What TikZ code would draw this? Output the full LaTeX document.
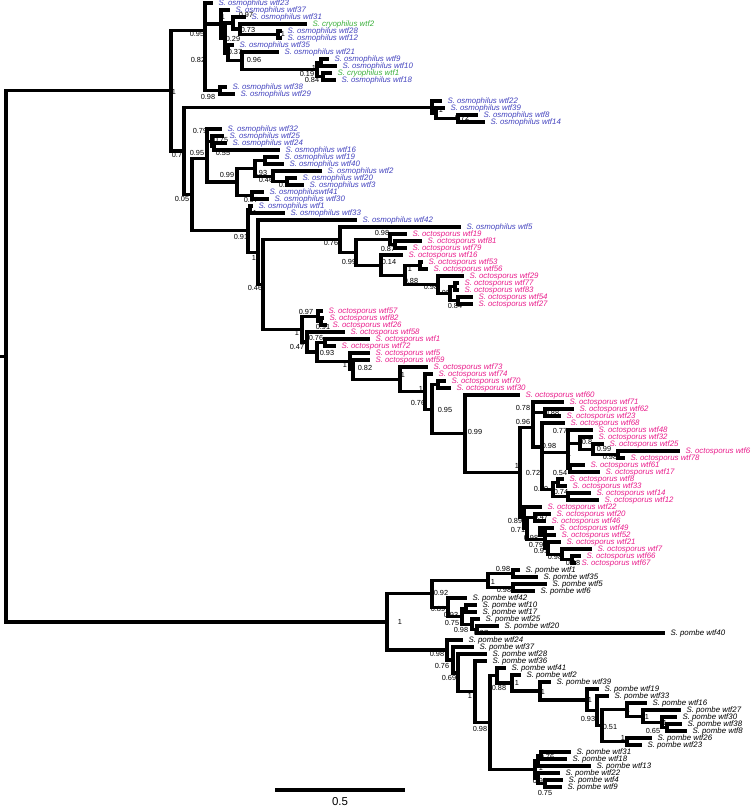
\documentclass[tikz,border=0pt]{standalone}
\usepackage{fontspec}
\setmainfont{Liberation Sans}
\definecolor{osmoblue}{RGB}{66,66,190}
\definecolor{cryogreen}{RGB}{60,176,60}
\definecolor{octopink}{RGB}{233,30,140}
\tikzset{every picture/.style={line width=0.75pt}}
\tikzset{
  br/.style={line width=2.4pt},
  tip/.style={anchor=west,inner sep=0pt,font=\fontsize{5.9}{6}\selectfont\itshape},
  sup/.style={inner sep=0pt,font=\fontsize{5.5}{6}\selectfont},
  osmo/.style={text=osmoblue},
  cryo/.style={text=cryogreen},
  octo/.style={text=octopink},
  pomb/.style={text=black}
}
\begin{document}
\begin{tikzpicture}[x=0.75pt,y=0.75pt,yscale=-1,xscale=1]
\useasboundingbox (0,0) rectangle (750,807);

% Tips (one row every 7 units)
\foreach \nm/\xe/\col/\txt [count=\k from 0] in {
 osm23/213/osmo/S. osmophilus wtf23, osm37/230/osmo/S. osmophilus wtf37,
 osm31/246/osmo/S. osmophilus wtf31, cry2/307/cryo/S. cryophilus wtf2,
 osm28/282/osmo/S. osmophilus wtf28, osm12/282/osmo/S. osmophilus wtf12,
 osm35/234/osmo/S. osmophilus wtf35, osm21/279/osmo/S. osmophilus wtf21,
 osm9/329/osmo/S. osmophilus wtf9, osm10/337/osmo/S. osmophilus wtf10,
 cry1/332/cryo/S. cryophilus wtf1, osm18/336/osmo/S. osmophilus wtf18,
 osm38/227/osmo/S. osmophilus wtf38, osm29/235/osmo/S. osmophilus wtf29,
 osm22/442/osmo/S. osmophilus wtf22, osm39/445/osmo/S. osmophilus wtf39,
 osm8/478/osmo/S. osmophilus wtf8, osm14/485/osmo/S. osmophilus wtf14,
 osm32/222/osmo/S. osmophilus wtf32, osm25/224/osmo/S. osmophilus wtf25,
 osm24/227/osmo/S. osmophilus wtf24, osm16/280/osmo/S. osmophilus wtf16,
 osm19/279/osmo/S. osmophilus wtf19, osm40/284/osmo/S. osmophilus wtf40,
 osm2/322/osmo/S. osmophilus wtf2, osm20/297/osmo/S. osmophilus wtf20,
 osm3/304/osmo/S. osmophilus wtf3, osm41/264/osmo/S. osmophiluswtf41,
 osm30/269/osmo/S. osmophilus wtf30, osm1/253/osmo/S. osmophilus wtf1,
 osm33/285/osmo/S. osmophilus wtf33, osm42/357/osmo/S. osmophilus wtf42,
 osm5/461/osmo/S. osmophilus wtf5,
 oct19/407/octo/S. octosporus wtf19, oct81/422/octo/S. octosporus wtf81,
 oct79/407/octo/S. octosporus wtf79, oct16/403/octo/S. octosporus wtf16,
 oct53/423/octo/S. octosporus wtf53, oct56/428/octo/S. octosporus wtf56,
 oct29/464/octo/S. octosporus wtf29, oct77/459/octo/S. octosporus wtf77,
 oct83/459/octo/S. octosporus wtf83, oct54/473/octo/S. octosporus wtf54,
 oct27/473/octo/S. octosporus wtf27, oct57/323/octo/S. octosporus wtf57,
 oct82/324/octo/S. octosporus wtf82, oct26/327/octo/S. octosporus wtf26,
 oct58/345/octo/S. octosporus wtf58, oct1/370/octo/S. octosporus wtf1,
 oct72/336/octo/S. octosporus wtf72, oct5/370/octo/S. octosporus wtf5,
 oct59/370/octo/S. octosporus wtf59, oct73/428/octo/S. octosporus wtf73,
 oct74/433/octo/S. octosporus wtf74, oct70/446/octo/S. octosporus wtf70,
 oct30/451/octo/S. octosporus wtf30, oct60/520/octo/S. octosporus wtf60,
 oct71/564/octo/S. octosporus wtf71, oct62/574/octo/S. octosporus wtf62,
 oct23/561/octo/S. octosporus wtf23, oct68/565/octo/S. octosporus wtf68,
 oct48/593/octo/S. octosporus wtf48, oct32/593/octo/S. octosporus wtf32,
 oct25/604/octo/S. octosporus wtf25, oct6/680/octo/S. octosporus wtf6,
 oct78/625/octo/S. octosporus wtf78, oct61/585/octo/S. octosporus wtf61,
 oct17/600/octo/S. octosporus wtf17, oct8/564/octo/S. octosporus wtf8,
 oct33/567/octo/S. octosporus wtf33, oct14/591/octo/S. octosporus wtf14,
 oct12/599/octo/S. octosporus wtf12, oct22/542/octo/S. octosporus wtf22,
 oct20/551/octo/S. octosporus wtf20, oct46/546/octo/S. octosporus wtf46,
 oct49/554/octo/S. octosporus wtf49, oct52/556/octo/S. octosporus wtf52,
 oct21/561/octo/S. octosporus wtf21, oct7/592/octo/S. octosporus wtf7,
 oct66/581/octo/S. octosporus wtf66, oct67/576/octo/S. octosporus wtf67,
 pom1/520/pomb/S. pombe wtf1, pom35/538/pomb/S. pombe wtf35,
 pom5/547/pomb/S. pombe wtf5, pom6/535/pomb/S. pombe wtf6,
 pom42/467/pomb/S. pombe wtf42, pom10/477/pomb/S. pombe wtf10,
 pom17/477/pomb/S. pombe wtf17, pom25/480/pomb/S. pombe wtf25,
 pom20/499/pomb/S. pombe wtf20, pom40/665/pomb/S. pombe wtf40,
 pom24/463/pomb/S. pombe wtf24, pom37/474/pomb/S. pombe wtf37,
 pom28/487/pomb/S. pombe wtf28, pom36/487/pomb/S. pombe wtf36,
 pom41/506/pomb/S. pombe wtf41, pom2/521/pomb/S. pombe wtf2,
 pom39/551/pomb/S. pombe wtf39, pom19/599/pomb/S. pombe wtf19,
 pom33/609/pomb/S. pombe wtf33, pom16/647/pomb/S. pombe wtf16,
 pom27/681/pomb/S. pombe wtf27, pom30/677/pomb/S. pombe wtf30,
 pom38/682/pomb/S. pombe wtf38, pom8/687/pomb/S. pombe wtf8,
 pom26/652/pomb/S. pombe wtf26, pom23/642/pomb/S. pombe wtf23,
 pom31/571/pomb/S. pombe wtf31, pom18/567/pomb/S. pombe wtf18,
 pom13/591/pomb/S. pombe wtf13, pom22/560/pomb/S. pombe wtf22,
 pom4/563/pomb/S. pombe wtf4, pom9/562/pomb/S. pombe wtf9}{
  \coordinate (\nm) at (\xe,{3+7*\k});
  \node[tip,\col] (lab\nm) at ({\xe+5},{3+7*\k}) {\txt};
}

% Inner nodes
\foreach \nm/\xn/\yn in {
 root/6/356.2, n1/171/90.5, T0/205/30.1, T1/205/57.2, T9/220/90.5,
 T2/221/24, T3/225/38, T4/233/23, T5/240/29, T5b/278/34.5, T6/228/52.9,
 T7/242/60.75, T10/317/69.5, T11/321/62.5, T12/323/76.5,
 n2/184/150.9, W0/432/107.1, W1/436/113.25, W2/458/118.5, n3/192/194.7,
 n4/207/158.5, P0/207/135.1, P1/212/141.25, P2/214/146.5, P5/237/181.9,
 P6/255/168.4, P7/265/160.5, P8/273/176.25, P9/287/181.5, P10/252/195.5,
 n5/248/230.8, Q0/250/209.5, Q1/258/252.2, Q2/263/284.4, Q3/340/239.6,
 cA/356/252.2, A1/390/239.25, A1b/395/244.5, A2/381/265.1, A3/405/275.1,
 A4/420/265.5, A5/438/284.75, A6/450/293.5, A7/455/286.5, A8/458/300.5,
 B0/302/329.1, B1/318/316.25, B1b/321/321.5, B2/307/342, B3/317/351.9,
 B4/325/342.5, B5/350/361.3, B6/353/369.6, B7/400/379.3, X/425/391.6,
 D0/432/409.1, Z/438/384.5, C0/465/433.7, C1/520/472.5, C2/533/427.1,
 C2a/533/407.25, C2c/545/412.5, C2b/542/447, Xc/542/471, C2d/568/452.5,
 C2e/568/436.6, C2g/580/443.1, C2h/593/449.25, C2i/618/454.5, C2f/570/468.5,
 C3c/553/489.5, C3d/558/482.5, C3e/568/496.5, C4/524/517.8, C4b/527/528.7,
 C4c/535/517.5, C6/545/539.8, C5/540/531.5, C7/548/548.1, C8/562/554.25,
 C9/572/559.5,
 PR/387/621.9, PA/432/593.8, PA1/488/580.5, PA1a/513/573.5, PA1b/513/587.5,
 PA2/448/607.2, PA3/462/616.4, PA4/466/608.5, PA5/472/624.25, PA6/477/629.5,
 PB/447/650, PB1/453/659.9, PB2/458/672.9, PB3/475/691.75, PB4/490/722.5,
 PB5/497/675.5, PB7/512/683, PB8/540/691, PB9/587/699.9, PB10/597/710.8,
 PB11/602/725.5, PB12/627/709.6, PB14/643/716.1, PB15/662/722.25,
 PB16/667/727.5, PB13/627/741.5, PB6/535/769.5, PB17p/538/760.75,
 PB17/541/755.5, PB21/538/778.25, PB22/545/783.5}{
  \coordinate (\nm) at (\xn,\yn);
}
\coordinate (stub) at (0,356.2);

% Branches
\draw[br] (stub) -- (root);
\foreach \p/\c in {
 root/n1, root/PR, n1/T0, n1/n2,
 T0/osm23, T0/T1, T1/T2, T1/T9, T9/osm38, T9/osm29, T2/osm37, T2/T3,
 T3/T4, T3/T6, T4/osm31, T4/T5, T5/cry2, T5/T5b, T5b/osm28, T5b/osm12,
 T6/osm35, T6/T7, T7/osm21, T7/T10, T10/T11, T10/T12, T11/osm9,
 T11/osm10, T12/cry1, T12/osm18,
 n2/W0, n2/n3, W0/osm22, W0/W1, W1/osm39, W1/W2, W2/osm8, W2/osm14,
 n3/n4, n3/n5, n4/P0, n4/P5, P0/osm32, P0/P1, P1/osm25, P1/P2,
 P2/osm24, P2/osm16, P5/P6, P5/P10, P6/P7, P6/P8, P7/osm19, P7/osm40,
 P8/osm2, P8/P9, P9/osm20, P9/osm3, P10/osm41, P10/osm30,
 n5/Q0, n5/Q1, Q0/osm1, Q0/osm33, Q1/osm42, Q1/Q2, Q2/Q3, Q2/B0,
 Q3/osm5, Q3/cA, cA/A1, cA/A2, A1/oct19, A1/A1b, A1b/oct81, A1b/oct79,
 A2/oct16, A2/A3, A3/A4, A3/A5, A4/oct53, A4/oct56, A5/oct29, A5/A6,
 A6/A7, A6/A8, A7/oct77, A7/oct83, A8/oct54, A8/oct27,
 B0/B1, B0/B2, B1/oct57, B1/B1b, B1b/oct82, B1b/oct26, B2/oct58, B2/B3,
 B3/B4, B3/B5, B4/oct1, B4/oct72, B5/oct5, B5/B6, B6/oct59, B6/B7,
 B7/oct73, B7/X, X/oct74, X/D0, D0/Z, D0/C0, Z/oct70, Z/oct30,
 C0/oct60, C0/C1, C1/C2, C1/C4, C2/C2a, C2/C2b, C2a/oct71, C2a/C2c,
 C2c/oct62, C2c/oct23, C2b/oct68, C2b/Xc, Xc/C2d, Xc/C3c, C2d/C2e,
 C2d/C2f, C2e/oct48, C2e/C2g, C2g/oct32, C2g/C2h, C2h/oct25, C2h/C2i,
 C2i/oct6, C2i/oct78, C2f/oct61, C2f/oct17, C3c/C3d, C3c/C3e, C3d/oct8,
 C3d/oct33, C3e/oct14, C3e/oct12, C4/oct22, C4/C4b, C4b/C4c, C4b/C6,
 C4c/oct20, C4c/oct46, C6/C5, C6/C7, C5/oct49, C5/oct52, C7/oct21,
 C7/C8, C8/oct7, C8/C9, C9/oct66, C9/oct67,
 PR/PA, PR/PB, PA/PA1, PA/PA2, PA1/PA1a, PA1/PA1b, PA1a/pom1, PA1a/pom35,
 PA1b/pom5, PA1b/pom6, PA2/pom42, PA2/PA3, PA3/PA4, PA3/PA5, PA4/pom10,
 PA4/pom17, PA5/pom25, PA5/PA6, PA6/pom20, PA6/pom40,
 PB/pom24, PB/PB1, PB1/pom37, PB1/PB2, PB2/pom28, PB2/PB3, PB3/pom36,
 PB3/PB4, PB4/PB5, PB4/PB6, PB5/pom41, PB5/PB7, PB7/pom2, PB7/PB8,
 PB8/pom39, PB8/PB9, PB9/pom19, PB9/PB10, PB10/pom33, PB10/PB11,
 PB11/PB12, PB11/PB13, PB12/pom16, PB12/PB14, PB14/pom27, PB14/PB15,
 PB15/pom30, PB15/PB16, PB16/pom38, PB16/pom8, PB13/pom26, PB13/pom23,
 PB6/PB17p, PB6/PB21, PB17p/PB17, PB17p/pom13, PB17/pom31, PB17/pom18,
 PB21/pom22, PB21/PB22, PB22/pom4, PB22/pom9}{
  \draw[br] (\p) |- (\c);
}

% Support values
\foreach \xs/\ys/\v [count=\k] in {
 174/92/1, 197/34/0.95, 198/60/0.82, 223/17/1, 246/15/0.97, 248/30/0.73,
 283/34/1, 233/39/0.29, 235/52/0.37, 254/60/0.96, 314/68/1, 307/74/0.19,
 312/80/0.84, 208/97/0.98, 441/110/1, 462/118/0.72, 177/155/0.7,
 182/199/0.05, 197/153/0.95, 200/131/0.79, 221/140/0.75, 223/153/0.55,
 227/175/0.99, 265/163/1, 260/173/0.93, 266/180/0.46, 284/185/0.9,
 251/200/0.97, 241/237/0.91, 255/213/1, 254/258/1, 255/288/0.46,
 331/243/0.76, 349/262/0.99, 382/233/0.98, 388/249/0.87, 389/262/0.14,
 410/269/1, 411/281/0.88, 431/287/0.98, 443/293/0.95, 455/306/0.84,
 306/312/0.97, 323/327/0.91, 297/333/1, 297/347/0.47, 316/338/0.76,
 327/353/0.93, 345/365/1, 365/368/0.82, 403/375/1, 421/389/1,
 418/403/0.76, 445/410/0.95, 475/432/0.99, 523/408/0.78, 552/413/0.88,
 523/422/0.96, 560/431/0.77, 549/446/0.98, 569/454/1, 587/442/0.8,
 604/449/0.99, 610/457/0.98, 517/466/1, 533/473/0.72, 560/473/0.54,
 541/489/0.99, 561/492/0.74, 515/521/0.89, 518/530/0.71, 541/517/0.47,
 531/538/0.98, 536/545/0.79, 541/551/0.91, 555/557/0.98, 573/563/0.98,
 400/622/1, 441/593/0.92, 493/582/1, 503/569/0.98, 504/590/0.98,
 438/609/0.89, 451/615/0.93, 452/623/0.75, 461/630/0.98, 481/633/0.97,
 437/654/0.98, 442/666/0.76, 449/678/0.69, 470/696/1, 480/729/0.98,
 499/688/0.88, 517/683/1, 543/692/1, 590/700/1, 588/719/0.93,
 610/727/0.51, 628/710/1, 647/717/1, 665/723/1, 653/731/0.65,
 623/738/1, 547/757/0.76, 541/768/1, 540/781/0.93, 545/793/0.75}{
  \node[sup] (s\k) at (\xs,\ys) {\v};
}

% Scale bar
\coordinate (bar0) at (275,790);
\coordinate (bar1) at (405,790);
\draw[br] (bar0) -- (bar1);
\node[inner sep=0pt,font=\fontsize{8.6}{9}\selectfont] (barlab) at (340,802) {0.5};

\end{tikzpicture}
\end{document}
